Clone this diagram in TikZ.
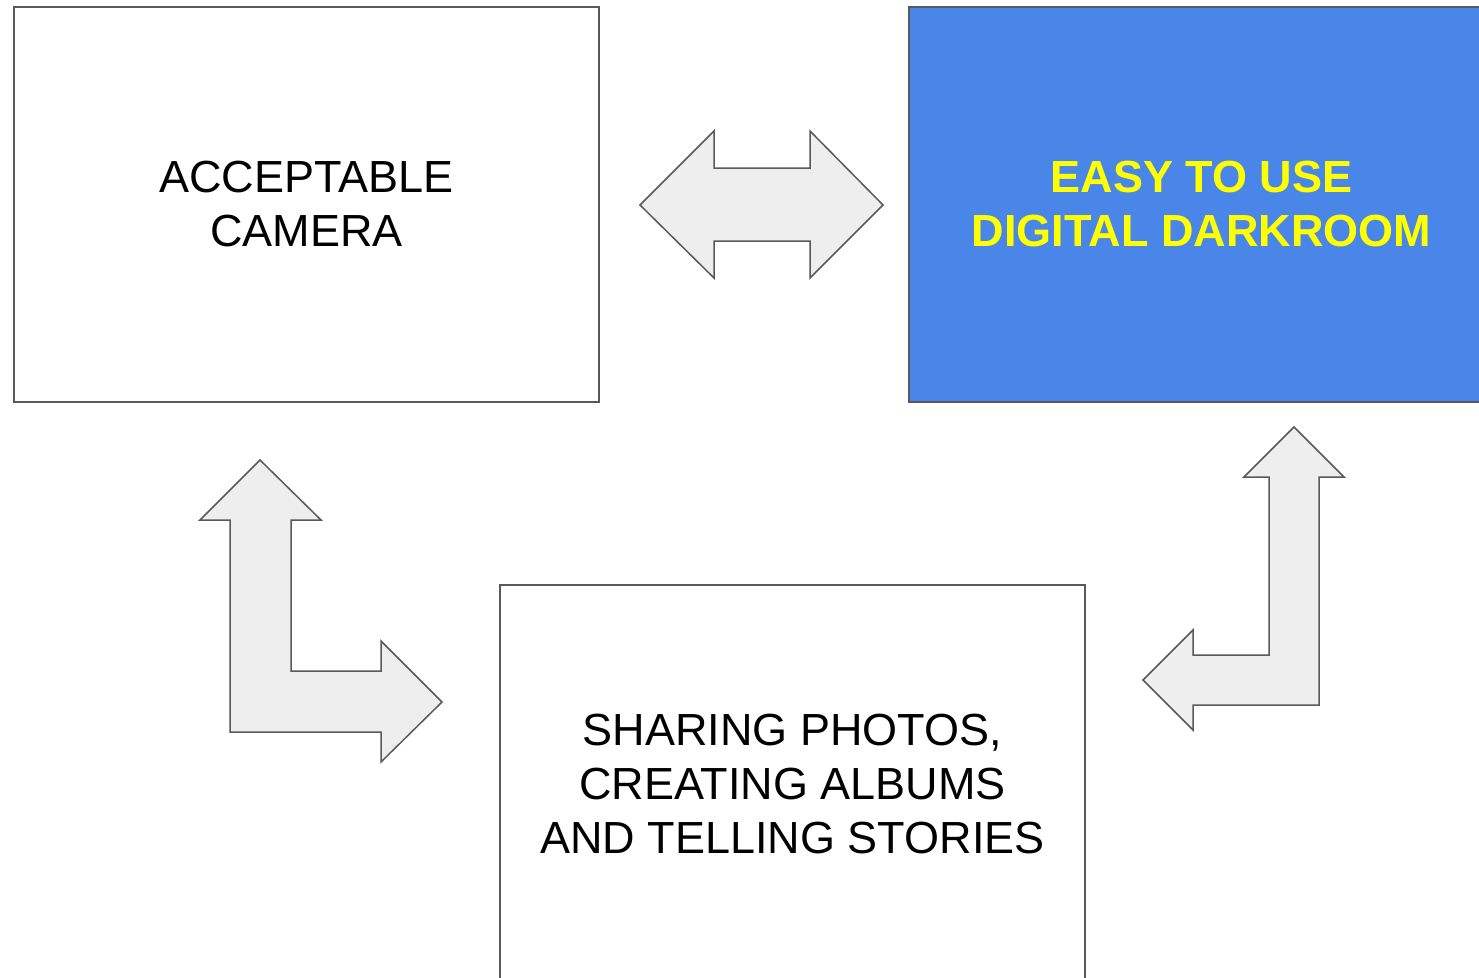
\documentclass[tikz,border=0pt]{standalone}
\usepackage{fontspec}
\setmainfont{Liberation Sans}
\definecolor{edge}{HTML}{595959}
\definecolor{blk}{HTML}{EEEEEE}
\definecolor{bluebox}{HTML}{4A86E8}
\definecolor{yel}{HTML}{FFFF00}
\begin{document}
\begin{tikzpicture}[x=1pt,y=-1pt,
  box/.style={draw=edge,line width=1.5pt,minimum width=585pt,inner sep=0pt,align=center,
    font=\fontsize{45}{54}\selectfont},
  blockarrow/.style={draw=edge,fill=blk,line width=1.5pt,line join=miter}]
\useasboundingbox (0,0) rectangle (1479,977);
\clip (0,0) rectangle (1479,977);
\fill[white] (0,0) rectangle (1479,977);
\node[box,fill=white,minimum height=395pt] (cam) at (306.5,204.5) {ACCEPTABLE\\CAMERA};
\node[box,fill=bluebox,minimum height=395pt,text=yel,font=\fontsize{45}{54}\selectfont\bfseries] (dark) at (1201.5,204.5) {EASY TO USE\\DIGITAL DARKROOM};
\node[box,fill=white,minimum height=398pt] (share) at (792.5,784) {SHARING PHOTOS,\\CREATING ALBUMS\\AND TELLING STORIES};
% double arrow between camera and darkroom
\draw[blockarrow] (640,205) -- (714,131) -- (714,168) -- (810,168) -- (810,131) -- (883,205)
  -- (810,278) -- (810,241) -- (714,241) -- (714,278) -- cycle;
% L arrow camera <-> sharing
\draw[blockarrow] (260,460) -- (321,520) -- (291,520) -- (291,671) -- (381,671) -- (381,641)
  -- (442,702) -- (381,762) -- (381,732) -- (230,732) -- (230,520) -- (200,520) -- cycle;
% L arrow darkroom <-> sharing
\draw[blockarrow] (1294,427) -- (1344,477) -- (1319,477) -- (1319,705) -- (1193,705) -- (1193,730)
  -- (1143,680) -- (1193,630) -- (1193,655) -- (1269,655) -- (1269,477) -- (1244,477) -- cycle;
\end{tikzpicture}
\end{document}
